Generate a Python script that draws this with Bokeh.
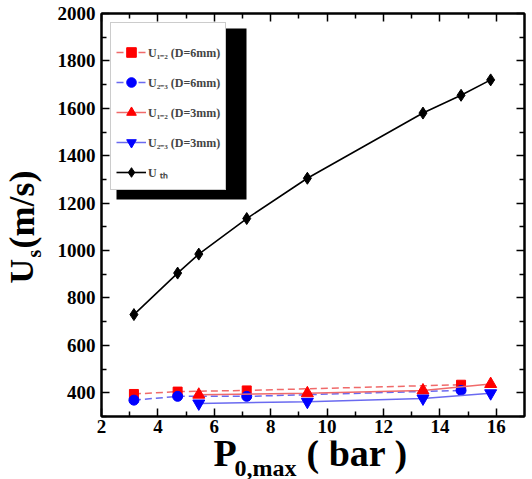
import numpy as np
from bokeh.plotting import figure
from bokeh.layouts import row, column
from bokeh.models import (Legend, LegendItem, LinearAxis, BoxAnnotation,
                          FixedTicker, Range1d)
from bokeh.core.properties import value
from bokeh.embed import file_html
from bokeh.resources import INLINE

# ---- data ----
x_d6 = [3.15, 4.7, 7.15, 14.75]
u12_d6 = [395, 405, 410, 434]
u23_d6 = [369, 385, 385, 410]
x_d3 = [5.45, 9.3, 13.4, 15.8]
u12_d3 = [392, 398, 410, 437]
u23_d3 = [355, 362, 376, 398]
x_th = [3.15, 4.7, 5.45, 7.15, 9.3, 13.4, 14.75, 15.8]
u_th = [730, 905, 985, 1135, 1305, 1580, 1655, 1720]

x_ticks = [2, 4, 6, 8, 10, 12, 14, 16]
x_minor = [3, 5, 7, 9, 11, 13, 15]
y_ticks = [400, 600, 800, 1000, 1200, 1400, 1600, 1800, 2000]
y_minor = [300, 500, 700, 900, 1100, 1300, 1500, 1700, 1900]

labels = ["U\u2081\u208b\u2082 (D=6mm)", "U\u2082\u208b\u2083 (D=6mm)",
          "U\u2081\u208b\u2082 (D=3mm)", "U\u2082\u208b\u2083 (D=3mm)",
          "U \u209c\u2095"]

FONT = "Liberation Serif"

YT_W = 44      # width of the y-title strip
MAIN_H = 440   # height of the main plot
XT_H = 479 - MAIN_H
FRAME_L = 101
FRAME_R = 524

p = figure(width=532 - YT_W, height=MAIN_H, output_backend="svg",
           toolbar_location=None,
           x_range=Range1d(2, 17), y_range=Range1d(300, 2000),
           min_border_left=FRAME_L - YT_W, min_border_right=532 - FRAME_R,
           min_border_top=13, min_border_bottom=24)
p.grid.visible = False
p.outline_line_color = "black"
p.outline_line_width = 2
p.background_fill_color = "white"
p.border_fill_color = "white"

def style_axis(ax, ticks, minor, show_labels=True):
    ax.ticker = FixedTicker(ticks=ticks, minor_ticks=minor)
    ax.axis_line_color = "black"
    ax.axis_line_width = 2
    ax.major_tick_in = 8
    ax.major_tick_out = 0
    ax.minor_tick_in = 5
    ax.minor_tick_out = 0
    ax.major_tick_line_width = 1.5
    ax.minor_tick_line_width = 1.5
    ax.major_label_text_font = FONT
    ax.major_label_text_font_style = "bold"
    ax.major_label_text_font_size = "19px"
    ax.major_label_text_color = "black"
    if not show_labels:
        ax.major_label_text_font_size = "0px"
        ax.major_label_standoff = 0

style_axis(p.xaxis[0], x_ticks, x_minor)
style_axis(p.yaxis[0], y_ticks, y_minor)
p.xaxis[0].major_label_standoff = 3
p.yaxis[0].major_label_standoff = 6

top_ax = LinearAxis()
right_ax = LinearAxis()
style_axis(top_ax, x_ticks, x_minor, False)
style_axis(right_ax, y_ticks, y_minor, False)
p.add_layout(top_ax, "above")
p.add_layout(right_ax, "right")

RED_L = "#f06a6a"
BLUE_L = "#6a6af0"

r1l = p.line(x_d6, u12_d6, line_color=RED_L, line_width=1.5, line_dash="7 4")
r1m = p.scatter(x_d6, u12_d6, marker="square", size=9, color="#ff0000")
r2l = p.line(x_d6, u23_d6, line_color=BLUE_L, line_width=1.5, line_dash="7 4")
r2m = p.scatter(x_d6, u23_d6, marker="circle", size=10, color="#0000ff")
r3l = p.line(x_d3, u12_d3, line_color=RED_L, line_width=1.5)
r3m = p.scatter(x_d3, u12_d3, marker="triangle", size=12, color="#ff0000")
r4l = p.line(x_d3, u23_d3, line_color=BLUE_L, line_width=1.5)
r4m = p.scatter(x_d3, u23_d3, marker="inverted_triangle", size=12, color="#0000ff")
r5l = p.line(x_th, u_th, line_color="black", line_width=1.6)
r5m = p.scatter(x_th, u_th, marker="diamond", size=12, color="black")

# legend shadow (frame-relative screen units)
shadow = BoxAnnotation(left=15, right=145, top=388, bottom=217,
                       left_units="screen", right_units="screen",
                       top_units="screen", bottom_units="screen",
                       fill_color="black", fill_alpha=1, line_color=None)
p.add_layout(shadow)

legend = Legend(items=[
    LegendItem(label=labels[0], renderers=[r1l, r1m]),
    LegendItem(label=labels[1], renderers=[r2l, r2m]),
    LegendItem(label=labels[2], renderers=[r3l, r3m]),
    LegendItem(label=labels[3], renderers=[r4l, r4m]),
    LegendItem(label=labels[4], renderers=[r5l, r5m]),
], location="top_left")
legend.margin = 9
legend.padding = 5
legend.spacing = 6
legend.glyph_width = 30
legend.glyph_height = 24
legend.label_height = 24
legend.label_standoff = 2
legend.label_text_font = FONT
legend.label_text_font_style = "bold"
legend.label_text_font_size = "12px"
legend.border_line_color = "#9a9a9a"
legend.border_line_width = 1.5
legend.background_fill_color = "white"
legend.background_fill_alpha = 1
legend.title = " "
legend.title_text_font_size = "10px"
legend.title_standoff = 1
p.add_layout(legend)

def strip(w, h, xr, yr):
    f = figure(width=w, height=h, output_backend="svg", toolbar_location=None,
               x_range=Range1d(*xr), y_range=Range1d(*yr),
               x_axis_location=None, y_axis_location=None,
               min_border=0, min_border_left=0, min_border_right=0,
               min_border_top=0, min_border_bottom=0)
    f.grid.visible = False
    f.outline_line_color = None
    f.border_fill_color = "white"
    f.background_fill_color = "white"
    return f

def txt(f, x, y_base, s, size, angle=0.0):
    # the text glyph is anchored on the middle of the em box, so shift from
    # the wanted baseline by 0.35 em
    off = 0.35 * size
    if angle:
        x = x - off
    else:
        y_base = y_base + off
    f.text(x=[x], y=[y_base], text=[s], angle=angle, text_font=value(FONT),
           text_font_style="bold", text_font_size=value(f"{size}px"),
           text_color="black", text_align="left", text_baseline="middle")

# x title: P_{0,max} ( bar )   (x in page pixels, y from strip bottom)
xt = strip(532 - YT_W, XT_H, (FRAME_L, FRAME_R), (0, XT_H))
txt(xt, 213, 479 - 466, "P", 38)
txt(xt, 234, 479 - 476, "0,max", 24)
txt(xt, 306, 479 - 466, "( bar )", 38)

# y title: U_s (m/s)
yt = strip(YT_W, 479, (0, YT_W), (0, 479))
txt(yt, 33, 479 - 283, "U", 34, angle=np.pi / 2)
txt(yt, 40, 479 - 257, "s", 20, angle=np.pi / 2)
txt(yt, 34, 479 - 248, "(m/s)", 36, angle=np.pi / 2)

layout = row(yt, column(p, xt, spacing=0), spacing=0)

open("out.html", "w").write(file_html(layout, INLINE))
